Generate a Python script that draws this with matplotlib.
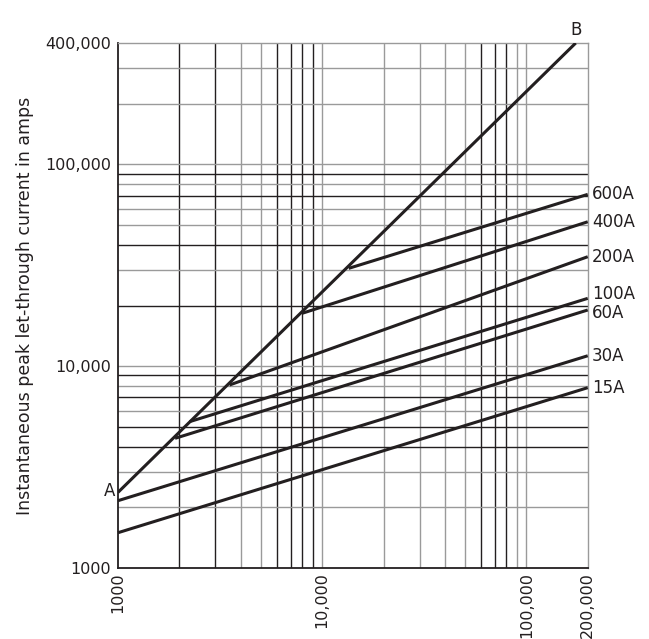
import matplotlib
matplotlib.use("Agg")
import matplotlib.pyplot as plt

# line A-B : available peak current
ab_x = [1000, 174700]
ab_y = [2370, 400000]

# fuse let-through lines, start on A-B (or left edge), end at 200,000
fuse_labels = ['600A', '400A', '200A', '100A', '60A', '30A', '15A']
fuse_x0 = [13490, 7960, 3516, 2239, 1904, 1000, 1000]
fuse_y0 = [30560, 18280, 8070, 5310, 4393, 2156, 1496]
fuse_x1 = [200000, 200000, 200000, 200000, 200000, 200000, 200000]
fuse_y1 = [71100, 52000, 34900, 21700, 19000, 11270, 7830]
label_dy = [0, 0, 0, 3, -2, 0, 0]   # small nudges so 100A / 60A don't touch

x_ticks = [1000, 10000, 100000, 200000]
x_ticklabels = ['1000', '10,000', '100,000', '200,000']
y_ticks = [1000, 10000, 100000, 400000]
y_ticklabels = ['1000', '10,000', '100,000', '400,000']

x_grid = [2000, 3000, 4000, 5000, 6000, 7000, 8000, 9000, 10000,
          20000, 30000, 40000, 50000, 60000, 70000, 80000, 90000, 100000]
x_grid_dark = [2000, 3000, 6000, 7000, 8000, 9000, 60000, 70000, 80000]
y_grid = [2000, 3000, 4000, 5000, 6000, 7000, 8000, 9000, 10000,
          20000, 30000, 40000, 50000, 60000, 70000, 80000, 90000, 100000,
          200000, 300000]
y_grid_dark = [4000, 5000, 7000, 9000, 20000, 40000, 70000, 90000]

ink = '#231f20'
grey = '#9a9a9a'

plt.rcParams['font.family'] = ['DejaVu Sans']

fig = plt.figure(figsize=(6.49, 6.39), dpi=100)
ax = fig.add_axes([0.1818, 0.1111, 0.9056 - 0.1818, 0.9327 - 0.1111])
ax.set_xscale('log')
ax.set_yscale('log')
ax.set_xlim(1000, 200000)
ax.set_ylim(1000, 400000)

for v in x_grid:
    c = ink if v in x_grid_dark else grey
    ax.axvline(v, color=c, lw=1.0, zorder=1)
for v in y_grid:
    c = ink if v in y_grid_dark else grey
    ax.axhline(v, color=c, lw=1.0, zorder=1)

ax.plot(ab_x, ab_y, color=ink, lw=2.2, zorder=3, solid_capstyle='butt')
for i in range(len(fuse_labels)):
    ax.plot([fuse_x0[i], fuse_x1[i]], [fuse_y0[i], fuse_y1[i]], color=ink, lw=2.2,
            zorder=3, solid_capstyle='butt', clip_on=False)
    ax.annotate(fuse_labels[i], (fuse_x1[i], fuse_y1[i]), xytext=(3, label_dy[i]),
                textcoords='offset points', ha='left', va='center', fontsize=12, color=ink)

ax.annotate('A', (ab_x[0], ab_y[0]), xytext=(-2, 1), textcoords='offset points',
            ha='right', va='center', fontsize=12, color=ink)
ax.annotate('B', (ab_x[1], ab_y[1]), xytext=(0, 3), textcoords='offset points',
            ha='center', va='bottom', fontsize=12, color=ink)

ax.set_xticks(x_ticks)
ax.set_xticklabels(x_ticklabels, rotation=90, fontsize=11.5, color=ink)
ax.set_yticks(y_ticks)
ax.set_yticklabels(y_ticklabels, fontsize=11.5, color=ink)
ax.minorticks_off()
ax.tick_params(length=0)
ax.tick_params(axis='x', pad=3)
ax.tick_params(axis='y', pad=5)
ax.set_ylabel('Instantaneous peak let-through current in amps', fontsize=12.5, color=ink, labelpad=8)

for s in ['left', 'bottom']:
    ax.spines[s].set_color(ink)
    ax.spines[s].set_linewidth(1.3)
for s in ['top', 'right']:
    ax.spines[s].set_color(grey)
    ax.spines[s].set_linewidth(1.0)

fig.savefig('out.png', dpi=100)
